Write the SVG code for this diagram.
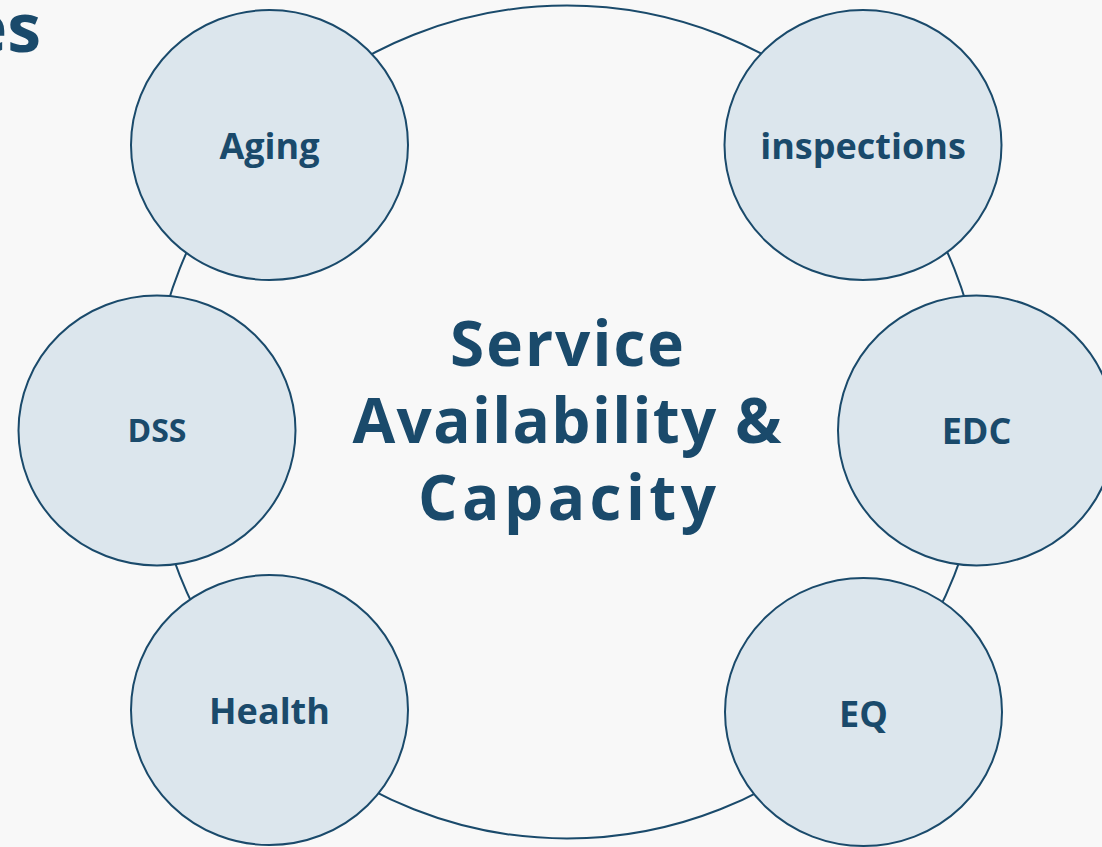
<svg xmlns="http://www.w3.org/2000/svg" width="1102" height="847" viewBox="0 0 1102 847">
<style>
.bg{fill:#f8f8f8}
.ring{fill:none;stroke:#1a4a6b;stroke-width:2}
.node{fill:#dce6ed;stroke:#1a4a6b;stroke-width:2}
.lbl{font-family:"Open Sans","Liberation Sans",sans-serif;font-weight:700;fill:#1a4a6b;text-anchor:middle}
.ctr{font-family:"Open Sans","Liberation Sans",sans-serif;font-weight:700;fill:#1a4a6b;text-anchor:middle;font-size:62px}
</style>
<rect class="bg" x="0" y="0" width="1102" height="847"/>
<text x="41" y="52" font-family="Open Sans, Liberation Sans, sans-serif" font-weight="700" font-size="68" fill="#1a4a6b" text-anchor="end">es</text>
<g id="connectors">
<circle class="ring" cx="567" cy="422" r="416.5"/>
</g>
<g id="center">
<text class="ctr" x="567" y="366" textLength="234" lengthAdjust="spacing">Service</text>
<text class="ctr" x="567" y="443" textLength="429" lengthAdjust="spacing">Availability &amp;</text>
<text class="ctr" x="567" y="520" textLength="298" lengthAdjust="spacing">Capacity</text>
</g>
<g id="aging">
<ellipse class="node" cx="269.5" cy="145" rx="138.5" ry="135"/>
<text class="lbl" x="269.5" y="159" font-size="36">Aging</text>
</g>
<g id="inspections">
<ellipse class="node" cx="863" cy="145" rx="138.5" ry="135"/>
<text class="lbl" x="863" y="159" font-size="36">inspections</text>
</g>
<g id="dss">
<ellipse class="node" cx="157" cy="430.5" rx="138.5" ry="135"/>
<text class="lbl" x="157" y="442" font-size="32">DSS</text>
</g>
<g id="edc">
<ellipse class="node" cx="976.5" cy="430.5" rx="138.5" ry="135"/>
<text class="lbl" x="976.5" y="444" font-size="36">EDC</text>
</g>
<g id="health">
<ellipse class="node" cx="269.5" cy="710" rx="138.5" ry="135"/>
<text class="lbl" x="269.5" y="724" font-size="36">Health</text>
</g>
<g id="eq">
<ellipse class="node" cx="863.5" cy="712" rx="138.5" ry="134"/>
<text class="lbl" x="863.5" y="727" font-size="36">EQ</text>
</g>
</svg>
